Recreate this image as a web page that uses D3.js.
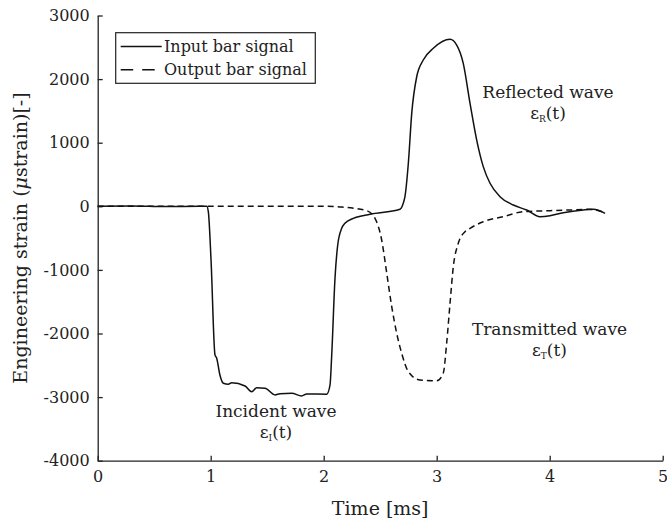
<!DOCTYPE html>
<html>
<head>
<meta charset="utf-8">
<script src="https://cdn.jsdelivr.net/npm/d3@7"></script>
<style>
  html, body { margin: 0; padding: 0; background: #fff; }
  svg { display: block; }
  text { font-family: "DejaVu Serif", "Liberation Serif", serif; fill: #222; }
</style>
</head>
<body>
<svg id="chart" width="667" height="522"></svg>
<script>
// ---- Data ----
const inputTime = [0, 0.3, 0.6, 0.9, 0.965, 0.979, 1.003, 1.038, 1.053, 1.082, 1.112, 1.156, 1.186, 1.304, 1.363, 1.407, 1.481, 1.569, 1.613, 1.717, 1.805, 1.850, 2.027, 2.056, 2.071, 2.100, 2.124, 2.159, 2.188, 2.262, 2.410, 2.675, 2.704, 2.719, 2.749, 2.779, 2.823, 2.881, 2.970, 3.118, 3.177, 3.235, 3.295, 3.354, 3.412, 3.472, 3.560, 3.678, 3.796, 3.914, 4.003, 4.120, 4.297, 4.386, 4.490];
const inputStrain = [0, 5, -5, 0, 0, -85, -844, -2337, -2388, -2656, -2782, -2798, -2773, -2825, -2915, -2852, -2861, -2966, -2946, -2940, -2982, -2951, -2955, -2809, -2338, -1132, -608, -346, -267, -189, -126, -47, 47, 151, 676, 1462, 2037, 2300, 2484, 2625, 2536, 2248, 1619, 1042, 624, 362, 151, 20, -58, -163, -148, -101, -58, -47, -110];
const outputTime = [0, 1.0, 2.0, 2.144, 2.381, 2.454, 2.513, 2.558, 2.602, 2.646, 2.690, 2.749, 2.852, 3.000, 3.058, 3.088, 3.118, 3.147, 3.191, 3.250, 3.295, 3.412, 3.589, 3.766, 4.003, 4.180, 4.357, 4.490];
const outputStrain = [0, 0, 0, -10, -69, -189, -530, -1053, -1578, -1996, -2310, -2600, -2731, -2742, -2625, -2154, -1525, -949, -582, -399, -346, -242, -163, -85, -69, -58, -47, -101];
const xTicks = [0, 1, 2, 3, 4, 5];
const yTicks = [-4000, -3000, -2000, -1000, 0, 1000, 2000, 3000];
const seriesNames = ["Input bar signal", "Output bar signal"];

// ---- Layout ----
const svg = d3.select("#chart");
const x = d3.scaleLinear().domain([0, 5]).range([97.7, 662.7]);
const y = d3.scaleLinear().domain([-4000, 3000]).range([460.7, 15.5]);

// Axes (ticks point inward, labels use a plain hyphen as in the reference)
const plain = d => String(d);
const xAxis = d3.axisBottom(x).tickValues(xTicks).tickFormat(plain)
  .tickSizeInner(-5).tickSizeOuter(0).tickPadding(10);
const yAxis = d3.axisLeft(y).tickValues(yTicks).tickFormat(plain)
  .tickSizeInner(-5).tickSizeOuter(0).tickPadding(8);

const gx = svg.append("g").attr("transform", `translate(0,${y(-4000)})`).call(xAxis);
const gy = svg.append("g").attr("transform", `translate(${x(0)},0)`).call(yAxis);
[gx, gy].forEach(g => {
  g.select(".domain").attr("stroke", "#222").attr("stroke-width", 1.3);
  g.selectAll(".tick line").attr("stroke", "#222").attr("stroke-width", 1.3);
  g.selectAll(".tick text").attr("font-family", "DejaVu Serif").attr("font-size", 16).attr("fill", "#222");
});

// Axis labels
svg.append("text").attr("x", (x(0) + x(5)) / 2).attr("y", 515)
  .attr("text-anchor", "middle").attr("font-size", 19).text("Time [ms]");
const yl = svg.append("text")
  .attr("transform", `translate(27,238) rotate(-90)`)
  .attr("text-anchor", "middle").attr("font-size", 19);
yl.append("tspan").text("Engineering strain (");
yl.append("tspan").attr("font-style", "italic").text("μ");
yl.append("tspan").text("strain)[-]");

// Lines
const line = d3.line().x(d => x(d[0])).y(d => y(d[1])).curve(d3.curveMonotoneX);
const inputData = inputTime.map((t, i) => [t, inputStrain[i]]);
const outputData = outputTime.map((t, i) => [t, outputStrain[i]]);

svg.append("path").datum(outputData).attr("d", line)
  .attr("fill", "none").attr("stroke", "#111").attr("stroke-width", 1.5)
  .attr("stroke-dasharray", "6,4");
svg.append("path").datum(inputData).attr("d", line)
  .attr("fill", "none").attr("stroke", "#111").attr("stroke-width", 1.5);

// Legend
const lg = svg.append("g");
lg.append("rect").attr("x", 115.7).attr("y", 32.7).attr("width", 199.6).attr("height", 50.6)
  .attr("fill", "#fff").attr("stroke", "#222").attr("stroke-width", 1.2);
const legendDash = [null, "12.5,9"];
seriesNames.forEach((name, i) => {
  const ly = 46.5 + i * 23.3;
  lg.append("line").attr("x1", 120.7).attr("x2", 161.7).attr("y1", ly).attr("y2", ly)
    .attr("stroke", "#111").attr("stroke-width", 1.5)
    .attr("stroke-dasharray", legendDash[i]);
  lg.append("text").attr("x", 164).attr("y", ly + 5.5).attr("font-size", 16).text(name);
});

// Annotations
function annotate(cx, y1, title, sub) {
  svg.append("text").attr("x", cx).attr("y", y1).attr("text-anchor", "middle")
    .attr("font-size", 17).text(title);
  const t = svg.append("text").attr("x", cx).attr("y", y1 + 21).attr("text-anchor", "middle")
    .attr("font-size", 17);
  t.append("tspan").text("ε");
  t.append("tspan").attr("font-size", 9).attr("dy", 3).text(sub);
  t.append("tspan").attr("dy", -3).text("(t)");
}
annotate(548, 98, "Reflected wave", "R");
annotate(549.5, 335, "Transmitted wave", "T");
annotate(276, 417, "Incident wave", "I");
</script>
</body>
</html>
